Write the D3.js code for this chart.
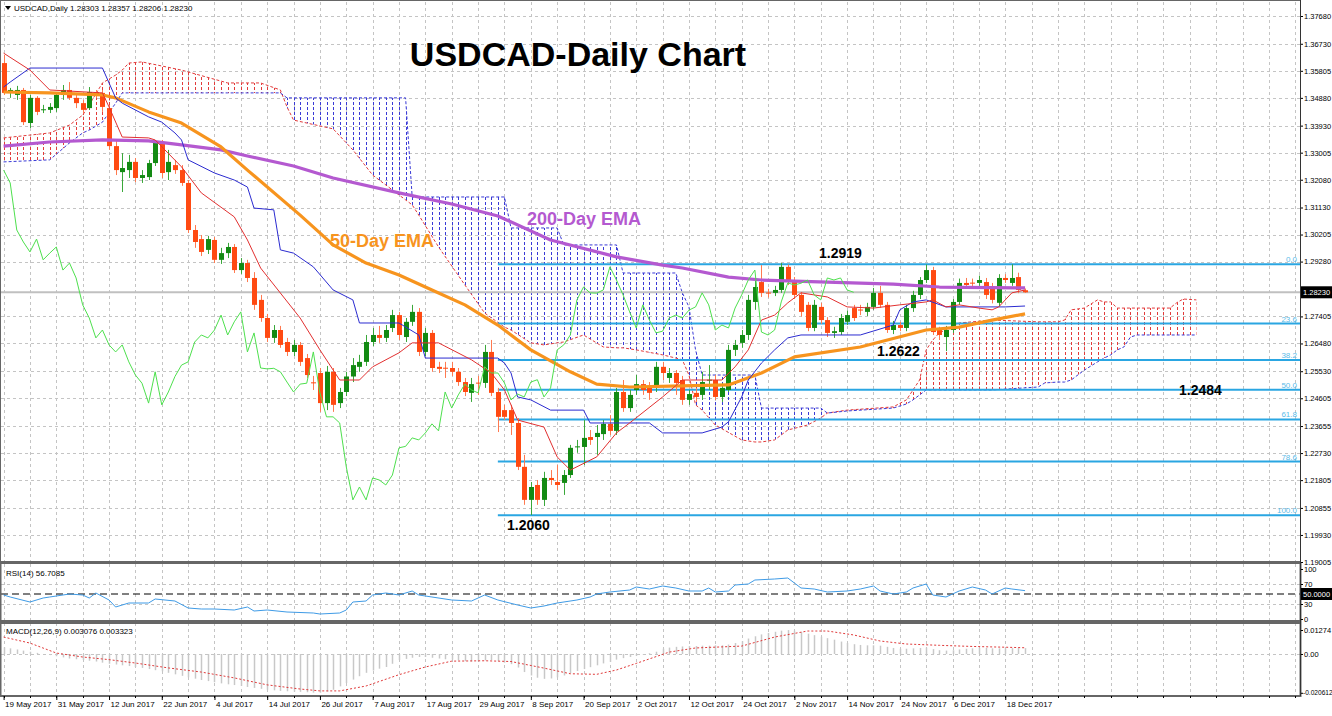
<!DOCTYPE html>
<html><head><meta charset="utf-8">
<script src="https://cdn.jsdelivr.net/npm/d3@7"></script>
<style>
html,body{margin:0;padding:0;background:#fff;}
svg text{font-family:"Liberation Sans",Arial,sans-serif;}
</style></head><body>
<svg id="c" width="1332" height="716"></svg>
<script>
// ---------------- DATA ----------------
const dateLabels = ["19 May 2017","31 May 2017","12 Jun 2017","22 Jun 2017","4 Jul 2017","14 Jul 2017","26 Jul 2017","7 Aug 2017","17 Aug 2017","29 Aug 2017","8 Sep 2017","20 Sep 2017","2 Oct 2017","12 Oct 2017","24 Oct 2017","2 Nov 2017","14 Nov 2017","24 Nov 2017","6 Dec 2017","18 Dec 2017"];
const dateLabelBars = [0,8,16,24,32,40,48,56,64,72,80,88,96,104,112,120,128,136,144,152];
const priceTicks = [1.37680,1.36730,1.35805,1.34880,1.33930,1.33005,1.32080,1.31130,1.30205,1.29280,1.27405,1.26480,1.25530,1.24605,1.23655,1.22730,1.21805,1.20855,1.19930,1.19005];
const lastPrice = 1.28230;

const open = [1.3607,1.3505,1.3498,1.3515,1.3402,1.3488,1.3447,1.3447,1.3453,1.3498,
1.3515,1.3488,1.3470,1.3453,1.3508,1.3505,1.3453,1.3323,1.3234,1.3241,
1.3269,1.3214,1.3217,1.3265,1.3334,1.3234,1.3258,1.3241,1.3197,1.3036,
1.3005,1.2968,1.3002,1.2934,1.2957,1.2978,1.2899,1.2923,1.2872,1.2797,
1.2735,1.2667,1.2694,1.2653,1.2619,1.2643,1.2598,1.2515,1.2547,1.2444,
1.2551,1.2444,1.2482,1.2535,1.2568,1.2585,1.2653,1.2677,1.2667,1.2701,
1.2745,1.2670,1.2722,1.2756,1.2619,1.2684,1.2568,1.2565,1.2564,1.2551,
1.2516,1.2479,1.2514,1.2513,1.2619,1.2482,1.2420,1.2420,1.2376,1.2226,
1.2113,1.2164,1.2113,1.2188,1.2174,1.2171,1.2198,1.2293,1.2294,1.2328,
1.2328,1.2338,1.2373,1.2349,1.2482,1.2427,1.2489,1.2509,1.2496,1.2499,
1.2568,1.2530,1.2547,1.2523,1.2455,1.2479,1.2472,1.2521,1.2523,1.2465,
1.2489,1.2626,1.2650,1.2677,1.2790,1.2858,1.2822,1.2821,1.2831,1.2910,
1.2865,1.2814,1.2780,1.2701,1.2773,1.2728,1.2684,1.2687,1.2722,1.2769,
1.2764,1.2756,1.2773,1.2821,1.2780,1.2694,1.2711,1.2701,1.2769,1.2814,
1.2865,1.2899,1.2694,1.2670,1.2694,1.2790,1.2855,1.2856,1.2855,1.2858,
1.2841,1.2787,1.2872,1.2855,1.2875,1.2830];
const high = [1.3635,1.3522,1.3529,1.3522,1.3498,1.3494,1.3464,1.3470,1.3508,1.3532,
1.3542,1.3498,1.3481,1.3525,1.3515,1.3515,1.3464,1.3344,1.3299,1.3293,
1.3282,1.3241,1.3276,1.3344,1.3344,1.3310,1.3276,1.3258,1.3207,1.3053,
1.3019,1.3016,1.3012,1.2975,1.2992,1.2988,1.2940,1.2934,1.2892,1.2814,
1.2749,1.2711,1.2708,1.2667,1.2660,1.2653,1.2612,1.2537,1.2564,1.2571,
1.2564,1.2496,1.2551,1.2598,1.2609,1.2677,1.2701,1.2708,1.2711,1.2763,
1.2756,1.2735,1.2780,1.2769,1.2701,1.2694,1.2585,1.2585,1.2585,1.2564,
1.2530,1.2530,1.2537,1.2643,1.2660,1.2496,1.2438,1.2438,1.2393,1.2267,
1.2174,1.2181,1.2209,1.2215,1.2232,1.2215,1.2301,1.2318,1.2386,1.2352,
1.2369,1.2386,1.2403,1.2496,1.2523,1.2489,1.2540,1.2523,1.2516,1.2585,
1.2585,1.2564,1.2557,1.2537,1.2489,1.2496,1.2551,1.2574,1.2540,1.2513,
1.2643,1.2660,1.2694,1.2814,1.2865,1.2916,1.2835,1.2845,1.2923,1.2918,
1.2875,1.2824,1.2790,1.2797,1.2787,1.2738,1.2705,1.2749,1.2760,1.2780,
1.2780,1.2787,1.2838,1.2845,1.2790,1.2725,1.2722,1.2780,1.2828,1.2875,
1.2918,1.2910,1.2705,1.2708,1.2800,1.2870,1.2872,1.2870,1.2880,1.2872,
1.2855,1.2885,1.2885,1.2919,1.2890,1.2836];
const low = [1.3498,1.3488,1.3481,1.3395,1.3385,1.3429,1.3436,1.3436,1.3440,1.3481,
1.3481,1.3453,1.3436,1.3447,1.3488,1.3440,1.3310,1.3224,1.3166,1.3214,
1.3200,1.3197,1.3207,1.3255,1.3214,1.3207,1.3228,1.3187,1.3026,1.2975,
1.2947,1.2954,1.2923,1.2920,1.2940,1.2889,1.2886,1.2858,1.2763,1.2722,
1.2653,1.2650,1.2633,1.2605,1.2605,1.2571,1.2530,1.2489,1.2414,1.2420,
1.2414,1.2427,1.2468,1.2516,1.2551,1.2571,1.2639,1.2650,1.2653,1.2687,
1.2660,1.2653,1.2708,1.2605,1.2605,1.2551,1.2547,1.2530,1.2537,1.2503,
1.2468,1.2448,1.2472,1.2496,1.2468,1.2345,1.2386,1.2335,1.2215,1.2096,
1.2061,1.2096,1.2092,1.2164,1.2147,1.2130,1.2188,1.2274,1.2232,1.2301,
1.2267,1.2318,1.2335,1.2335,1.2414,1.2414,1.2472,1.2472,1.2455,1.2482,
1.2523,1.2513,1.2472,1.2438,1.2438,1.2448,1.2455,1.2489,1.2455,1.2448,
1.2482,1.2605,1.2633,1.2660,1.2763,1.2807,1.2805,1.2810,1.2821,1.2848,
1.2800,1.2740,1.2690,1.2690,1.2715,1.2670,1.2667,1.2677,1.2711,1.2725,
1.2745,1.2742,1.2763,1.2770,1.2684,1.2680,1.2690,1.2690,1.2756,1.2800,
1.2855,1.2677,1.2660,1.2622,1.2684,1.2780,1.2835,1.2840,1.2845,1.2800,
1.2785,1.2775,1.2855,1.2845,1.2820,1.2821];
const close = [1.3505,1.3515,1.3515,1.3405,1.3488,1.3440,1.3449,1.3457,1.3498,1.3515,
1.3488,1.3470,1.3447,1.3508,1.3498,1.3457,1.3323,1.3241,1.3248,1.3269,
1.3214,1.3224,1.3265,1.3334,1.3231,1.3269,1.3241,1.3197,1.3036,1.2995,
1.2961,1.3005,1.2934,1.2957,1.2978,1.2899,1.2923,1.2872,1.2780,1.2735,
1.2667,1.2694,1.2643,1.2619,1.2643,1.2585,1.2540,1.2512,1.2444,1.2551,
1.2438,1.2482,1.2535,1.2574,1.2585,1.2653,1.2677,1.2667,1.2694,1.2745,
1.2677,1.2722,1.2756,1.2619,1.2684,1.2564,1.2561,1.2563,1.2551,1.2516,
1.2482,1.2509,1.2512,1.2619,1.2479,1.2397,1.2397,1.2376,1.2226,1.2113,
1.2157,1.2113,1.2188,1.2181,1.2164,1.2198,1.2291,1.2296,1.2325,1.2318,
1.2342,1.2373,1.2349,1.2482,1.2427,1.2472,1.2509,1.2489,1.2479,1.2568,
1.2547,1.2547,1.2513,1.2455,1.2475,1.2465,1.2516,1.2524,1.2465,1.2496,
1.2626,1.2643,1.2677,1.2797,1.2841,1.2821,1.2820,1.2831,1.2910,1.2865,
1.2814,1.2756,1.2701,1.2780,1.2728,1.2684,1.2690,1.2735,1.2745,1.2735,
1.2762,1.2773,1.2821,1.2780,1.2694,1.2711,1.2701,1.2769,1.2814,1.2865,
1.2899,1.2687,1.2677,1.2694,1.2790,1.2855,1.2848,1.2854,1.2865,1.2814,
1.2797,1.2872,1.2865,1.2872,1.2831,1.2823];

// Moving averages (bar index, value)
const ema200Bars = [0,7,15,22,27,33,37,44,50,60,68,75,83,93,100,103,110,115,125,135,142,155];
const ema200 = [1.3323,1.3337,1.3344,1.3341,1.3327,1.3310,1.3289,1.3255,1.3214,1.3163,1.3125,1.3084,1.3002,1.2944,1.2916,1.2906,1.2875,1.2865,1.2858,1.2851,1.2841,1.2838];
const ema50Bars = [0,7,15,17,22,27,33,37,45,50,55,60,65,70,75,80,86,90,95,103,110,115,120,130,140,145,150,155];
const ema50 = [1.3508,1.3505,1.3498,1.3488,1.3440,1.3402,1.3320,1.3241,1.3087,1.2985,1.2923,1.2882,1.2831,1.2780,1.2711,1.2626,1.2551,1.2509,1.2499,1.2503,1.2506,1.2547,1.2602,1.2636,1.2694,1.2704,1.2728,1.2749];

// Ichimoku lines
const tenkanBars = [0,4,7,15,16,18,22,23,27,30,35,37,39,45,48,51,54,56,60,62,66,71,74,76,78,82,84,86,90,93,95,100,103,109,111,113,115,117,119,121,125,128,132,136,140,141,143,145,148,150,151,153,155];
const tenkan = [1.3641,1.3583,1.3515,1.3505,1.3457,1.3354,1.3351,1.3344,1.3252,1.3163,1.3081,1.3002,1.2906,1.2735,1.2626,1.2523,1.2523,1.2568,1.2616,1.2650,1.2650,1.2592,1.2547,1.2489,1.2386,1.2362,1.2260,1.2215,1.2260,1.2342,1.2376,1.2465,1.2523,1.2523,1.2568,1.2626,1.2728,1.2745,1.2787,1.2821,1.2807,1.2773,1.2769,1.2780,1.2790,1.2797,1.2773,1.2780,1.2769,1.2763,1.2773,1.2821,1.2831];
const kijunBars = [0,1,4,15,17,18,22,24,26,27,28,32,35,37,38,41,42,44,47,50,53,54,60,63,64,75,76,77,78,80,83,88,89,98,100,106,109,110,112,113,115,117,119,121,130,135,136,138,140,143,152,155];
const kijun = [1.3525,1.3542,1.3590,1.3590,1.3488,1.3470,1.3423,1.3405,1.3368,1.3344,1.3276,1.3231,1.3207,1.3183,1.3111,1.3105,1.2968,1.2957,1.2910,1.2831,1.2797,1.2718,1.2718,1.2677,1.2598,1.2598,1.2581,1.2547,1.2465,1.2455,1.2420,1.2420,1.2376,1.2376,1.2342,1.2342,1.2362,1.2380,1.2465,1.2523,1.2581,1.2626,1.2667,1.2677,1.2677,1.2711,1.2763,1.2790,1.2797,1.2773,1.2773,1.2776];
const chikouShift = 26;

// Kumo (Senkou span A / B), plotted 26 bars ahead
const cloudBars = [0,7,10,12,13,15,17,18,19,21,27,34,39,42,43,44,50,53,56,60,61,62,63,66,70,73,76,77,80,82,84,85,88,91,93,94,96,100,102,103,104,105,106,108,112,114,115,117,119,122,124,125,128,135,137,138,139,140,141,142,145,150,157,158,160,161,162,164,166,167,168,169,170,171,172,177,178,179,181];
const spanA = [1.3351,1.3368,1.3395,1.3429,1.3464,1.3539,1.3566,1.3583,1.3607,1.3611,1.3583,1.3539,1.3539,1.3515,1.3457,1.3412,1.3382,1.3310,1.3224,1.3156,1.3139,1.3122,1.3087,1.2978,1.2848,1.2752,1.2704,1.2694,1.2650,1.2643,1.2650,1.2653,1.2677,1.2636,1.2633,1.2633,1.2626,1.2609,1.2598,1.2592,1.2540,1.2438,1.2420,1.2369,1.2318,1.2311,1.2311,1.2318,1.2352,1.2369,1.2393,1.2410,1.2420,1.2431,1.2455,1.2489,1.2523,1.2626,1.2660,1.2684,1.2718,1.2728,1.2722,1.2722,1.2722,1.2728,1.2763,1.2769,1.2797,1.2790,1.2790,1.2769,1.2769,1.2769,1.2769,1.2769,1.2787,1.2800,1.2797];
const spanB = [1.3269,1.3276,1.3334,1.3368,1.3378,1.3405,1.3470,1.3505,1.3505,1.3505,1.3505,1.3505,1.3505,1.3505,1.3488,1.3488,1.3488,1.3488,1.3488,1.3488,1.3488,1.3149,1.3149,1.3149,1.3149,1.3149,1.3149,1.3043,1.3043,1.3043,1.3043,1.2985,1.2985,1.2985,1.2985,1.2889,1.2889,1.2889,1.2889,1.2821,1.2773,1.2626,1.2540,1.2540,1.2540,1.2540,1.2427,1.2427,1.2427,1.2427,1.2427,1.2410,1.2417,1.2427,1.2441,1.2455,1.2472,1.2489,1.2489,1.2489,1.2489,1.2489,1.2499,1.2513,1.2516,1.2516,1.2523,1.2557,1.2585,1.2598,1.2609,1.2626,1.2636,1.2670,1.2677,1.2677,1.2677,1.2677,1.2677];

// Fibonacci retracement 1.2919 -> 1.2060
const fibLabels = ["0.0","23.6","38.2","50.0","61.8","78.6","100.0"];
const fibLevels = [1.2919,1.2716,1.2591,1.2490,1.2388,1.2244,1.2060];
const fibStartBar = 75;

// Annotations
const annoText = ["1.2919","1.2622","1.2484","1.2060"];

// RSI(14)
const rsiBars = [0,1,4,6,7,10,12,13,14,16,17,19,22,23,26,28,30,32,35,37,38,40,43,47,48,51,52,53,55,56,58,60,62,63,65,68,71,73,75,78,80,82,84,87,89,90,92,95,96,98,100,102,104,106,107,108,110,111,113,114,117,119,120,121,123,125,128,130,132,133,135,137,138,140,141,143,145,147,149,150,152,153,155];
const rsi = [48,44,34,42,44,50,48,42,52,38,24,32,32,40,36,22,20,20,18,24,16,18,14,12,10,12,18,34,36,48,52,48,56,48,44,38,36,48,38,28,22,26,32,38,44,50,54,58,64,60,66,62,56,56,62,54,56,68,70,78,80,82,72,62,60,54,56,60,66,56,50,54,62,70,48,44,56,64,58,50,62,60,56.7085];
const rsiLevels = [70,30];

// MACD(12,26,9): main (histogram) per bar, signal sampled
const macdMain = [0.0035,0.0030,0.0024,0.0018,0.0012,0.0006,0.0000,-0.0006,-0.0012,-0.0018,
-0.0024,-0.0028,-0.0032,-0.0036,-0.0040,-0.0046,-0.0052,-0.0056,-0.0060,-0.0064,
-0.0069,-0.0074,-0.0080,-0.0086,-0.0092,-0.0100,-0.0108,-0.0116,-0.0124,-0.0131,
-0.0138,-0.0144,-0.0150,-0.0156,-0.0161,-0.0165,-0.0170,-0.0175,-0.0180,-0.0185,
-0.0190,-0.0193,-0.0196,-0.0198,-0.0200,-0.0201,-0.0203,-0.0205,-0.0206,-0.0200,
-0.0190,-0.0172,-0.0154,-0.0136,-0.0118,-0.0100,-0.0088,-0.0078,-0.0069,-0.0052,
-0.0032,-0.0026,-0.0020,-0.0016,-0.0016,-0.0020,-0.0024,-0.0028,-0.0030,-0.0034,
-0.0038,-0.0040,-0.0040,-0.0034,-0.0032,-0.0038,-0.0046,-0.0054,-0.0072,-0.0096,
-0.0114,-0.0126,-0.0132,-0.0130,-0.0124,-0.0114,-0.0102,-0.0090,-0.0080,-0.0070,
-0.0060,-0.0050,-0.0042,-0.0030,-0.0022,-0.0016,-0.0010,-0.0004,0.0004,0.0012,
0.0028,0.0034,0.0038,0.0040,0.0042,0.0042,0.0044,0.0044,0.0046,0.0046,
0.0050,0.0058,0.0068,0.0082,0.0094,0.0104,0.0112,0.0118,0.0124,0.0127,
0.0124,0.0116,0.0108,0.0100,0.0092,0.0084,0.0076,0.0066,0.0058,0.0052,
0.0048,0.0046,0.0046,0.0044,0.0038,0.0032,0.0028,0.0028,0.0030,0.0032,
0.0034,0.0026,0.0020,0.0018,0.0020,0.0024,0.0028,0.0030,0.0032,0.0032,
0.0030,0.0030,0.0030,0.0031,0.0031,0.0031];
const sigBars = [0,4,8,12,16,20,25,30,35,40,45,48,51,55,60,64,68,73,77,82,86,90,93,96,101,105,112,117,122,125,129,133,137,142,147,152,155];
const macdSignal = [0.0090,0.0058,0.0005,-0.0016,-0.0030,-0.0048,-0.0074,-0.0096,-0.0127,-0.0164,-0.0186,-0.0196,-0.0196,-0.0170,-0.0110,-0.0069,-0.0038,-0.0036,-0.0040,-0.0075,-0.0105,-0.0108,-0.0085,-0.0050,0.0010,0.0032,0.0042,0.0090,0.0122,0.0122,0.0101,0.0069,0.0053,0.0046,0.0040,0.0036,0.0033];
const macdTicks = [0.01274,0.00,-0.020612];

// ---------------- DRAW ----------------
const svg = d3.select("#c");
const R = 1300;               // right edge of plot area
const main = {t:2,b:561}, rp = {t:564,b:621}, mp = {t:623,b:696};

const x = d3.scaleLinear().domain([0,192]).range([3.6, 3.6+192*6.59]);
const yP = d3.scaleLinear().domain([1.19005,1.37680]).range([562,16]);
const yR = d3.scaleLinear().domain([0,100]).range([619,569]);
const yM = d3.scaleLinear().domain([-0.020612,0.01274]).range([692.8,630]);

svg.append("rect").attr("width",1332).attr("height",716).attr("fill","#fff");
const defs = svg.append("defs");
function clip(id,t,b){defs.append("clipPath").attr("id",id).append("rect").attr("x",1).attr("y",t).attr("width",R-1).attr("height",b-t);}
clip("cm",main.t,main.b); clip("cr",rp.t,rp.b); clip("cmm",mp.t,mp.b);

const gridCol = "#c4c4c4";
// vertical grid
const vBars = d3.range(0,200,4).filter(b=>x(b)<R-1);
[[main.t,main.b],[rp.t,rp.b],[mp.t,mp.b]].forEach(([t,b])=>{
  svg.append("g").selectAll("line").data(vBars).join("line")
    .attr("x1",d=>Math.round(x(d))+0.5).attr("x2",d=>Math.round(x(d))+0.5)
    .attr("y1",t).attr("y2",b).attr("stroke",gridCol).attr("stroke-dasharray","3,3");
});
// horizontal grid main
svg.append("g").selectAll("line").data(priceTicks).join("line")
  .attr("x1",1).attr("x2",R).attr("y1",d=>Math.round(yP(d))+0.5).attr("y2",d=>Math.round(yP(d))+0.5)
  .attr("stroke",gridCol).attr("stroke-dasharray","3,3");
svg.append("g").selectAll("line").data(rsiLevels).join("line")
  .attr("x1",1).attr("x2",R).attr("y1",d=>Math.round(yR(d))+0.5).attr("y2",d=>Math.round(yR(d))+0.5)
  .attr("stroke",gridCol).attr("stroke-dasharray","3,3");
svg.append("line").attr("x1",1).attr("x2",R).attr("y1",Math.round(yM(0))+0.5).attr("y2",Math.round(yM(0))+0.5)
  .attr("stroke",gridCol).attr("stroke-dasharray","3,3");

// ---- main panel ----
const gm = svg.append("g").attr("clip-path","url(#cm)");

// Kumo hatch
const cl = cloudBars.map((b,i)=>({b,a:spanA[i],s:spanB[i]}));
const redArea = d3.area().x(d=>x(d.b)).y0(d=>yP(d.s)).y1(d=>Math.min(yP(d.a),yP(d.s)));
const blueArea = d3.area().x(d=>x(d.b)).y0(d=>yP(d.a)).y1(d=>Math.min(yP(d.a),yP(d.s)));
defs.append("clipPath").attr("id","kr").append("path").attr("d",redArea(cl));
defs.append("clipPath").attr("id","kb").append("path").attr("d",blueArea(cl));
const hatchBars = d3.range(0,182);
gm.append("g").attr("clip-path","url(#kr)").selectAll("line").data(hatchBars).join("line")
  .attr("x1",d=>Math.round(x(d))+0.5).attr("x2",d=>Math.round(x(d))+0.5).attr("y1",main.t).attr("y2",main.b)
  .attr("stroke","#e23b3b").attr("stroke-dasharray","3,2");
gm.append("g").attr("clip-path","url(#kb)").selectAll("line").data(hatchBars).join("line")
  .attr("x1",d=>Math.round(x(d))+0.5).attr("x2",d=>Math.round(x(d))+0.5).attr("y1",main.t).attr("y2",main.b)
  .attr("stroke","#3a3ad6").attr("stroke-dasharray","3,2");
gm.append("path").attr("d",d3.line().x(d=>x(d.b)).y(d=>yP(d.a))(cl)).attr("fill","none")
  .attr("stroke","#e23b3b").attr("stroke-dasharray","3,2");
gm.append("path").attr("d",d3.line().x(d=>x(d.b)).y(d=>yP(d.s))(cl)).attr("fill","none")
  .attr("stroke","#3a3ad6").attr("stroke-dasharray","3,2");

// Fibonacci lines
const fibCol = "#2aa6e2";
gm.append("g").selectAll("line").data(fibLevels).join("line")
  .attr("x1",x(fibStartBar)).attr("x2",R).attr("y1",d=>yP(d)).attr("y2",d=>yP(d))
  .attr("stroke",fibCol).attr("stroke-width",2);
svg.append("g").selectAll("text").data(fibLevels).join("text")
  .attr("x",R-3).attr("y",d=>yP(d)-2).attr("text-anchor","end").attr("font-size",8)
  .attr("fill","#5bbbe8").text((d,i)=>fibLabels[i]);

// bid line
gm.append("line").attr("x1",1).attr("x2",R).attr("y1",yP(lastPrice)).attr("y2",yP(lastPrice))
  .attr("stroke","#c0c0c0").attr("stroke-width",2);

// candles
const bull = "#138a13", bear = "#ff4a12";
const idx = d3.range(open.length);
const gc = gm.append("g");
gc.selectAll("line").data(idx).join("line")
  .attr("x1",i=>Math.round(x(i))+0.5).attr("x2",i=>Math.round(x(i))+0.5)
  .attr("y1",i=>yP(high[i])).attr("y2",i=>yP(low[i]))
  .attr("stroke",i=>close[i]>=open[i]?"#3aa83a":"#ff7a50");
gc.selectAll("rect").data(idx).join("rect")
  .attr("x",i=>Math.round(x(i))-2).attr("width",5)
  .attr("y",i=>yP(Math.max(open[i],close[i])))
  .attr("height",i=>Math.max(1,Math.abs(yP(open[i])-yP(close[i]))))
  .attr("fill",i=>close[i]>=open[i]?bull:bear);

// lines
function ln(bars,vals,col,w,dash){
  const p = gm.append("path").attr("d",d3.line().x((d,i)=>x(bars[i])).y(d=>yP(d))(vals))
    .attr("fill","none").attr("stroke",col).attr("stroke-width",w).attr("stroke-linejoin","round");
  if(dash) p.attr("stroke-dasharray",dash);
  return p;
}
ln(ema200Bars,ema200,"#b459d0",3.2);
ln(ema50Bars,ema50,"#f7941e",3.2);
ln(kijunBars,kijun,"#2b2bd0",1);
ln(tenkanBars,tenkan,"#e23030",1);
const chikou = close.slice(chikouShift);
ln(d3.range(chikou.length),chikou,"#4ee04e",1);

// annotations
svg.append("text").attr("x",578).attr("y",66).attr("text-anchor","middle")
  .attr("font-size",34).attr("font-weight","bold").attr("fill","#000").text("USDCAD-Daily Chart");
svg.append("text").attr("x",330).attr("y",247).attr("font-size",18).attr("font-weight","bold")
  .attr("fill","#f7941e").text("50-Day EMA");
svg.append("text").attr("x",527).attr("y",225).attr("font-size",18).attr("font-weight","bold")
  .attr("fill","#b459d0").text("200-Day EMA");
const annoPos = [[819,258],[877,356],[1179,395],[507,530]];
svg.append("g").selectAll("text").data(annoText).join("text")
  .attr("x",(d,i)=>annoPos[i][0]).attr("y",(d,i)=>annoPos[i][1]).attr("font-size",14)
  .attr("font-weight","bold").attr("fill","#000").text(d=>d);

// header
svg.append("path").attr("d","M5,6 L11,6 L8,10 Z").attr("fill","#000");
svg.append("text").attr("x",14).attr("y",11).attr("font-size",8).attr("fill","#000")
  .text("USDCAD,Daily  1.28303 1.28357 1.28206 1.28230");

// ---- RSI panel ----
const gr = svg.append("g").attr("clip-path","url(#cr)");
gr.append("line").attr("x1",1).attr("x2",R).attr("y1",yR(50)).attr("y2",yR(50))
  .attr("stroke","#000").attr("stroke-dasharray","7,4");
gr.append("path").attr("d",d3.line().x((d,i)=>x(rsiBars[i])).y(d=>yR(d))(rsi))
  .attr("fill","none").attr("stroke","#3f9be6").attr("stroke-width",1);
svg.append("text").attr("x",6).attr("y",576).attr("font-size",8).text("RSI(14) 56.7085");

// ---- MACD panel ----
const gmc = svg.append("g").attr("clip-path","url(#cmm)");
gmc.selectAll("line").data(idx).join("line")
  .attr("x1",i=>Math.round(x(i))+0.5).attr("x2",i=>Math.round(x(i))+0.5)
  .attr("y1",yM(0)).attr("y2",i=>yM(macdMain[i]))
  .attr("stroke","#c8c8c8").attr("stroke-width",1.5);
gmc.append("path").attr("d",d3.line().x((d,i)=>x(sigBars[i])).y(d=>yM(d))(macdSignal))
  .attr("fill","none").attr("stroke","#e03a3a").attr("stroke-dasharray","2,2");
svg.append("text").attr("x",6).attr("y",634).attr("font-size",8).text("MACD(12,26,9) 0.003076 0.003323");

// ---- frames ----
svg.append("rect").attr("x",0.5).attr("y",0.5).attr("width",R).attr("height",main.b).attr("fill","none").attr("stroke","#666");
svg.append("rect").attr("x",0.5).attr("y",rp.t-1).attr("width",R).attr("height",rp.b-rp.t+1).attr("fill","none").attr("stroke","#666").attr("stroke-width",2);
svg.append("rect").attr("x",0.5).attr("y",mp.t).attr("width",R).attr("height",mp.b-mp.t).attr("fill","none").attr("stroke","#666").attr("stroke-width",2);

// ---- axes ----
function styleAxis(g,fs){
  g.select(".domain").remove();
  g.selectAll(".tick line").attr("stroke","#000");
  g.selectAll("text").attr("font-size",fs).attr("fill","#000").attr("font-family","Liberation Sans, Arial, sans-serif");
}
const ay = svg.append("g").attr("transform",`translate(${R},0)`)
  .call(d3.axisRight(yP).tickValues(priceTicks).tickFormat(d3.format(".5f")).tickSize(3));
styleAxis(ay,7.5); ay.selectAll("text").attr("x",4);
const ar = svg.append("g").attr("transform",`translate(${R},0)`)
  .call(d3.axisRight(yR).tickValues([100,70,30,0]).tickFormat(d3.format("d")).tickSize(3));
styleAxis(ar,7.5); ar.selectAll("text").attr("x",4);
const am = svg.append("g").attr("transform",`translate(${R},0)`)
  .call(d3.axisRight(yM).tickValues(macdTicks).tickFormat(d=>d===0?"0.00":String(d)).tickSize(3));
styleAxis(am,7.5); am.selectAll("text").attr("x",4);
am.selectAll("text").filter(d=>d<0).attr("font-size",6.6).attr("x",3);

// current price and RSI 50 boxes
[[yP(lastPrice),"1.28230"],[yR(50),"50.0000"]].forEach(([yy,t])=>{
  svg.append("rect").attr("x",R+1).attr("y",yy-6).attr("width",31).attr("height",12).attr("fill","#000");
  svg.append("text").attr("x",R+3).attr("y",yy+3).attr("font-size",7.5).attr("fill","#fff").text(t);
});
svg.append("line").attr("x1",R+0.5).attr("x2",R+0.5).attr("y1",0).attr("y2",mp.b).attr("stroke","#333");

const ax = svg.append("g").attr("transform",`translate(0,${mp.b})`)
  .call(d3.axisBottom(x).tickValues(dateLabelBars).tickFormat((d,i)=>dateLabels[i]).tickSize(4));
styleAxis(ax,8);
ax.selectAll("text").attr("text-anchor","start").attr("x",1).attr("y",5);
svg.append("g").selectAll("line").data(vBars).join("line")
  .attr("x1",d=>Math.round(x(d))+0.5).attr("x2",d=>Math.round(x(d))+0.5)
  .attr("y1",mp.b).attr("y2",mp.b+2).attr("stroke","#000");
</script>
</body></html>
